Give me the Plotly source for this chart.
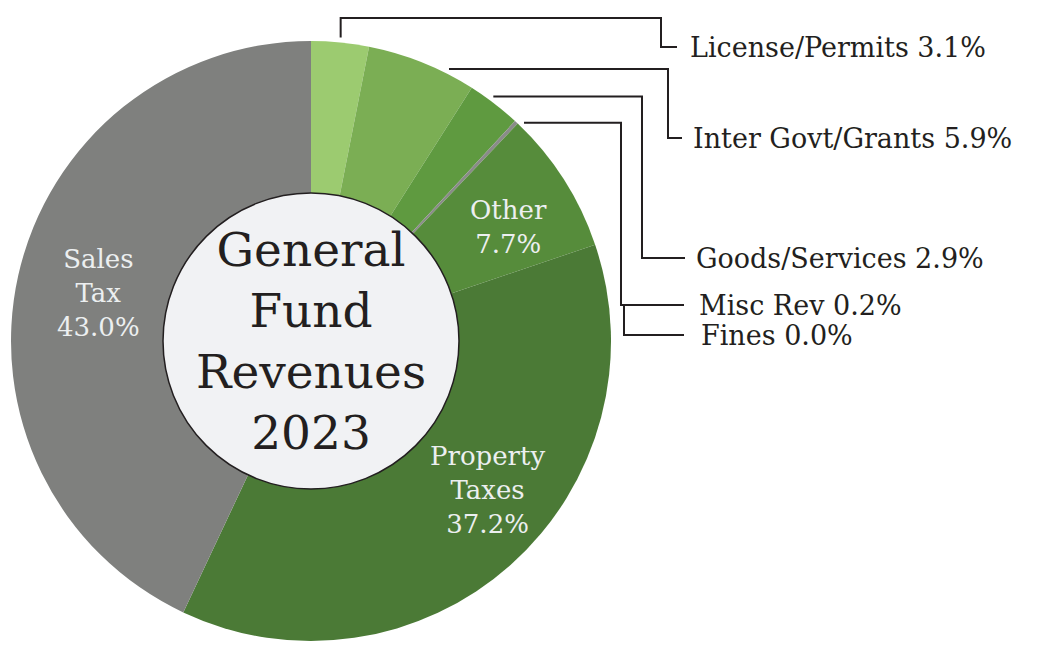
import math
import plotly.graph_objects as go

# ---- data ----
categories = ["License/Permits", "Inter Govt/Grants", "Goods/Services", "Misc Rev",
              "Fines", "Other", "Property Taxes", "Sales Tax"]
shares = [3.1, 5.9, 2.9, 0.2, 0.0, 7.7, 37.2, 43.0]
slice_colors = ["#9ccb70", "#7bae54", "#5f9a40", "#8a8b89",
                "#8a8b89", "#568c3b", "#4b7a36", "#7f807e"]
outside_cats = ["License/Permits", "Inter Govt/Grants", "Goods/Services", "Misc Rev", "Fines"]
inside_text = {"Other": "Other", "Property Taxes": "Property<br>Taxes", "Sales Tax": "Sales<br>Tax"}
center_title = "General<br>Fund<br>Revenues<br>2023"

# ---- layout constants (pixels) ----
W, H = 1041, 647
CX, CY, R = 311, 341, 300
HOLE_R = 148
FONT = "DejaVu Serif"
INK = "#231f20"


def px(x, y):
    return x / W, 1 - y / H


total = sum(shares)
mid_angle = {}
cum = 0.0
for c, v in zip(categories, shares):
    mid_angle[c] = (cum + v / 2) / total * 360.0
    cum += v


def polar(theta_deg, r):
    t = math.radians(theta_deg)
    return CX + r * math.sin(t), CY - r * math.cos(t)


fig = go.Figure(go.Pie(
    labels=categories, values=shares, sort=False, direction="clockwise", rotation=0,
    marker=dict(colors=slice_colors, line=dict(width=0)),
    textinfo="none", hoverinfo="label+percent", showlegend=False,
    domain=dict(x=[(CX - R) / W, (CX + R) / W], y=[1 - (CY + R) / H, 1 - (CY - R) / H]),
))

shapes = []
annotations = []

# centre disc
x0, y0 = px(CX - HOLE_R, CY + HOLE_R)
x1, y1 = px(CX + HOLE_R, CY - HOLE_R)
shapes.append(dict(type="circle", xref="paper", yref="paper", x0=x0, y0=y0, x1=x1, y1=y1,
                   fillcolor="#f1f2f4", line=dict(color=INK, width=1.5), layer="above"))
cx_p, cy_p = px(CX, CY)
annotations.append(dict(text=center_title, x=cx_p, y=cy_p, xref="paper", yref="paper",
                        xanchor="center", yanchor="middle", showarrow=False,
                        font=dict(family=FONT, size=47, color=INK)))

# leader lines: lane y for horizontal run, elbow x, label y, label x
leader = {
    "License/Permits": dict(lane=18, elbow=661, ly=47, lx=688, vertical_first=True),
    "Inter Govt/Grants": dict(lane=69, elbow=668, ly=138, lx=691),
    "Goods/Services": dict(lane=96.5, elbow=642, ly=258, lx=694),
    "Misc Rev": dict(lane=122.7, elbow=621, ly=305, lx=697),
    "Fines": dict(lane=122.7, elbow=624, ly=335, lx=699),
}
RL = R + 5
for c in outside_cats:
    d = leader[c]
    v = shares[categories.index(c)]
    if d.get("vertical_first"):
        sx, sy = polar(mid_angle[c], RL)
        pts = [(sx, sy), (sx, d["lane"]), (d["elbow"], d["lane"]), (d["elbow"], d["ly"]),
               (d["lx"] - 11, d["ly"])]
    else:
        dy = CY - d["lane"]
        sx = CX + math.sqrt(max(RL ** 2 - dy ** 2, 0))
        if c == "Fines":
            m = leader["Misc Rev"]
            pts = [(d["elbow"], m["ly"]), (d["elbow"], d["ly"]), (d["lx"] - 15, d["ly"])]
        else:
            pts = [(sx, d["lane"]), (d["elbow"], d["lane"]), (d["elbow"], d["ly"]),
                   (d["lx"] - 9 if c != "Misc Rev" else d["lx"] - 13, d["ly"])]
    path = ""
    for i, (x, y) in enumerate(pts):
        xp, yp = px(x, y)
        path += ("M" if i == 0 else " L") + f" {xp:.5f} {yp:.5f}"
    shapes.append(dict(type="path", path=path, xref="paper", yref="paper",
                       line=dict(color=INK, width=2)))
    lxp, lyp = px(d["lx"], d["ly"])
    annotations.append(dict(text=f"{c} {v:.1f}%", x=lxp, y=lyp, xref="paper", yref="paper",
                            xanchor="left", yanchor="middle", showarrow=False,
                            font=dict(family=FONT, size=27, color=INK)))

# inside labels
inside_adj = {"Other": (2.5, 0.76), "Property Taxes": (-8.0, 0.77), "Sales Tax": (0.0, 0.727)}
for c, txt in inside_text.items():
    v = shares[categories.index(c)]
    da, fr = inside_adj[c]
    x, y = polar(mid_angle[c] + da, fr * R)
    xp, yp = px(x, y)
    annotations.append(dict(text=f"{txt}<br>{v:.1f}%", x=xp, y=yp, xref="paper", yref="paper",
                            xanchor="center", yanchor="middle", showarrow=False,
                            font=dict(family=FONT, size=26, color="#eceff0")))

fig.update_layout(
    width=W, height=H, margin=dict(l=0, r=0, t=0, b=0),
    paper_bgcolor="white", plot_bgcolor="white",
    shapes=shapes, annotations=annotations,
)
fig.write_html("out.html", config={"displayModeBar": False},
               post_script="document.body.style.margin='0';document.body.style.overflow='hidden';")
